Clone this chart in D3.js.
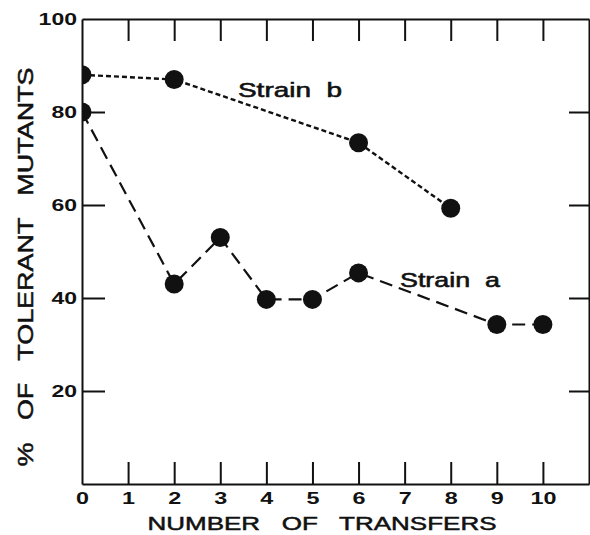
<!DOCTYPE html>
<html>
<head>
<meta charset="utf-8">
<script src="https://cdn.jsdelivr.net/npm/d3@7"></script>
<style>
  html, body { margin: 0; padding: 0; background: #fff; overflow: hidden; }
  svg { display: block; }
  svg text { font-family: "Liberation Sans", Arial, sans-serif; fill: #111; }
</style>
</head>
<body>
<div id="chart"></div>
<script>
// data
const strainAX = [0, 2, 3, 4, 5, 6, 9, 10];
const strainAY = [80, 43, 53, 39.7, 39.7, 45.4, 34.3, 34.3];
const strainBX = [0, 2, 6, 8];
const strainBY = [88, 87, 73.4, 59.3];
const xTicks = [0, 1, 2, 3, 4, 5, 6, 7, 8, 9, 10];
const yTicks = [20, 40, 60, 80, 100];

const width = 590;
const height = 535;
const margin = { top: 19, right: 1, bottom: 51, left: 82 };
const innerW = width - margin.left - margin.right;
const innerH = height - margin.top - margin.bottom;

const svg = d3.select("#chart").append("svg")
  .attr("width", width)
  .attr("height", height);

const g = svg.append("g")
  .attr("transform", `translate(${margin.left},${margin.top})`);

const x = d3.scaleLinear().domain([0, 11]).range([0, innerW]);
const y = d3.scaleLinear().domain([0, 100]).range([innerH, 0]);

svg.append("defs").append("clipPath")
  .attr("id", "plotclip")
  .append("rect")
  .attr("width", innerW)
  .attr("height", innerH);

const plot = g.append("g").attr("clip-path", "url(#plotclip)");

// series
const series = [
  { xs: strainBX, ys: strainBY, dash: "5 3", sw: 2.4 },
  { xs: strainAX, ys: strainAY, dash: "13 7", sw: 2.2 }
];

const line = d3.line()
  .x(d => x(d[0]))
  .y(d => y(d[1]));

series.forEach(s => {
  const pts = s.xs.map((v, i) => [v, s.ys[i]]);
  plot.append("path")
    .datum(pts)
    .attr("fill", "none")
    .attr("stroke", "#111")
    .attr("stroke-width", s.sw)
    .attr("stroke-dasharray", s.dash)
    .attr("d", line);
  plot.selectAll(null)
    .data(pts)
    .enter()
    .append("circle")
    .attr("cx", d => x(d[0]))
    .attr("cy", d => y(d[1]))
    .attr("r", 9.5)
    .attr("fill", "#111");
});

// axes (ticks pointing inwards)
function styleAxis(sel) {
  sel.select(".domain").attr("stroke", "#111").attr("stroke-width", 2);
  sel.selectAll(".tick line").attr("stroke", "#111").attr("stroke-width", 2);
}

const xAxis = g.append("g")
  .attr("transform", `translate(0,${innerH})`)
  .call(d3.axisBottom(x).tickValues(xTicks).tickSize(-22).tickSizeOuter(0).tickPadding(8))
  .call(styleAxis);
xAxis.selectAll(".tick").filter(d => d === 0).select("line").remove();
xAxis.selectAll("text")
  .attr("font-size", 17)
  .attr("font-weight", "bold")
  .attr("textLength", d => String(d).length * 13)
  .attr("lengthAdjust", "spacingAndGlyphs");

const yAxis = g.append("g")
  .call(d3.axisLeft(y).tickValues(yTicks).tickSize(-23).tickSizeOuter(0).tickPadding(5))
  .call(styleAxis);
yAxis.selectAll(".tick").filter(d => d === 100).select("line").remove();
yAxis.selectAll("text")
  .attr("font-size", 17)
  .attr("font-weight", "bold")
  .attr("textLength", d => String(d).length * 12.8)
  .attr("lengthAdjust", "spacingAndGlyphs");

g.append("g")
  .call(d3.axisTop(x).tickValues(xTicks.slice(1)).tickSize(-22).tickSizeOuter(0).tickFormat(""))
  .call(styleAxis);

g.append("g")
  .attr("transform", `translate(${innerW},0)`)
  .call(d3.axisRight(y).tickValues(yTicks.slice(0, 4)).tickSize(-20).tickSizeOuter(0).tickFormat(""))
  .call(styleAxis);

// series labels
function label(sel, len) {
  sel.attr("font-size", 21)
    .attr("stroke", "#111")
    .attr("stroke-width", 0.6)
    .style("white-space", "pre")
    .attr("textLength", len)
    .attr("lengthAdjust", "spacingAndGlyphs");
}

g.append("text")
  .attr("x", 238 - margin.left)
  .attr("y", 97 - margin.top)
  .call(label, 104)
  .text("Strain  b");

g.append("text")
  .attr("x", 400 - margin.left)
  .attr("y", 287 - margin.top)
  .call(label, 100)
  .text("Strain  a");

// axis titles
svg.append("text")
  .attr("x", 322)
  .attr("y", 530)
  .attr("text-anchor", "middle")
  .attr("font-size", 19)
  .attr("stroke", "#111")
  .attr("stroke-width", 0.5)
  .style("white-space", "pre")
  .attr("textLength", 349)
  .attr("lengthAdjust", "spacingAndGlyphs")
  .text("NUMBER   OF   TRANSFERS");

svg.append("text")
  .attr("transform", "translate(33,267) rotate(-90)")
  .attr("text-anchor", "middle")
  .attr("font-size", 22)
  .attr("stroke", "#111")
  .attr("stroke-width", 0.5)
  .style("white-space", "pre")
  .attr("textLength", 399)
  .attr("lengthAdjust", "spacingAndGlyphs")
  .text("%   OF   TOLERANT   MUTANTS");
</script>
</body>
</html>
